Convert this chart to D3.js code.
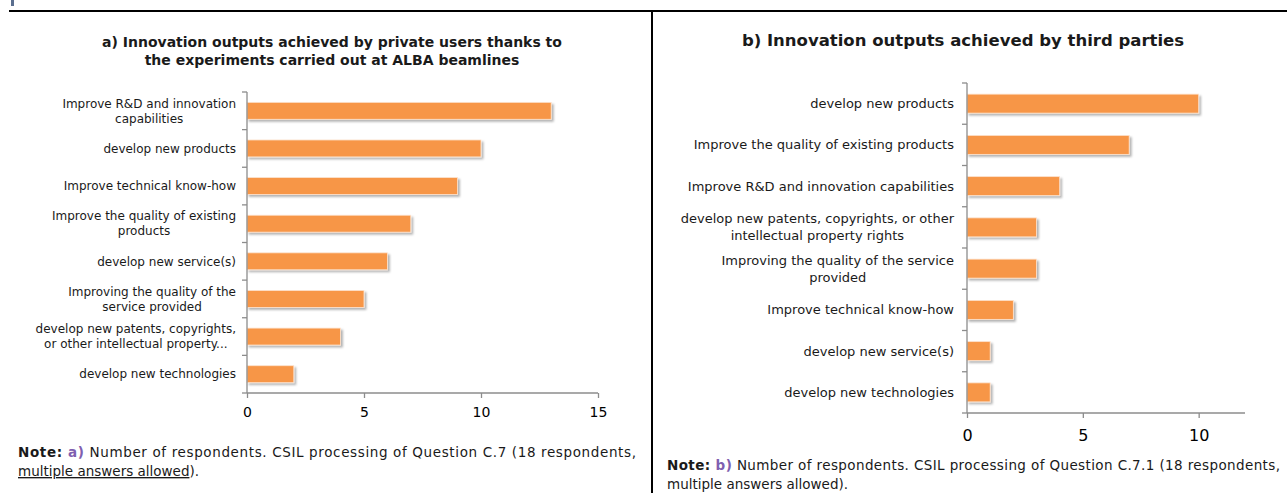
<!DOCTYPE html>
<html>
<head>
<meta charset="utf-8">
<script src="https://cdn.jsdelivr.net/npm/d3@7"></script>
<style>
  body { margin: 0; background: #fff; }
  svg { font-family: "DejaVu Sans", sans-serif; }
</style>
</head>
<body>
<svg width="1287" height="493"></svg>
<script>
// panel a data
var catsA = [
    ["Improve R&D and innovation", "capabilities"],
    ["develop new products"],
    ["Improve technical know-how"],
    ["Improve the quality of existing", "products"],
    ["develop new service(s)"],
    ["Improving the quality of the", "service provided"],
    ["develop new patents, copyrights,", "or other intellectual property..."],
    ["develop new technologies"]
];
var valsA = [13, 10, 9, 7, 6, 5, 4, 2];
var ticksA = [0, 5, 10, 15];

// panel b data
var catsB = [
    ["develop new products"],
    ["Improve the quality of existing products"],
    ["Improve R&D and innovation capabilities"],
    ["develop new patents, copyrights, or other", "intellectual property rights"],
    ["Improving the quality of the service", "provided"],
    ["Improve technical know-how"],
    ["develop new service(s)"],
    ["develop new technologies"]
];
var valsB = [10, 7, 4, 3, 3, 2, 1, 1];
var ticksB = [0, 5, 10];

var barColor = "#F79646";
var axisColor = "#8c8c8c";

const svg = d3.select("svg");

var defs = svg.append("defs");
defs.append("filter")
    .attr("id", "shadow")
    .attr("x", "-10%").attr("y", "-30%")
    .attr("width", "130%").attr("height", "180%")
    .append("feDropShadow")
    .attr("dx", 2).attr("dy", 2)
    .attr("stdDeviation", 1.2)
    .attr("flood-color", "#000")
    .attr("flood-opacity", 0.3);

// frame lines
svg.append("rect").attr("x", 11).attr("y", 0).attr("width", 3).attr("height", 6).attr("fill", "#5b6f8f");
svg.append("line").attr("x1", 9).attr("x2", 1287).attr("y1", 11).attr("y2", 11)
    .attr("stroke", "#000").attr("stroke-width", 2);
svg.append("line").attr("x1", 652).attr("x2", 652).attr("y1", 11).attr("y2", 493)
    .attr("stroke", "#000").attr("stroke-width", 2);

function drawPanel(cfg) {
    const g = svg.append("g");
    const x = d3.scaleLinear().domain(cfg.domain).range([cfg.x0, cfg.x1]);
    const y = d3.scaleBand().domain(d3.range(cfg.cats.length))
        .range([cfg.y0, cfg.y1]).paddingInner(cfg.pad).paddingOuter(cfg.pad / 2);

    // title
    cfg.title.forEach(function(t, i) {
        g.append("text")
            .attr("x", cfg.titleX).attr("y", cfg.titleY + i * 18)
            .attr("text-anchor", "middle")
            .attr("font-weight", "bold")
            .attr("font-size", cfg.titleFont)
            .attr("fill", "#1a1a1a")
            .text(t);
    });

    // bars
    g.selectAll("rect.bar")
        .data(cfg.vals)
        .join("rect")
        .attr("class", "bar")
        .attr("x", x(0))
        .attr("y", (d, i) => y(i))
        .attr("width", d => x(d) - x(0))
        .attr("height", y.bandwidth())
        .attr("fill", barColor)
        .attr("stroke", "#fde3cf")
        .attr("stroke-width", 0.8)
        .attr("filter", "url(#shadow)");

    // y axis line + ticks at band boundaries
    g.append("line")
        .attr("x1", x(0)).attr("x2", x(0))
        .attr("y1", cfg.y0).attr("y2", cfg.y1)
        .attr("stroke", axisColor).attr("stroke-width", 1.3);
    var bounds = d3.range(cfg.cats.length + 1).map(i => cfg.y0 + i * y.step());
    g.selectAll("line.ytick")
        .data(bounds)
        .join("line")
        .attr("class", "ytick")
        .attr("x1", x(0) - 5).attr("x2", x(0))
        .attr("y1", d => d).attr("y2", d => d)
        .attr("stroke", axisColor).attr("stroke-width", 1.3);

    // x axis
    const xAxis = d3.axisBottom(x).tickValues(cfg.ticks).tickSize(5).tickSizeOuter(0).tickPadding(cfg.tickPad);
    const ax = g.append("g")
        .attr("transform", `translate(0,${cfg.y1})`)
        .call(xAxis);
    ax.select(".domain").attr("stroke", axisColor).attr("stroke-width", 1.3)
        .attr("d", `M${x(0)},0H${cfg.x1}`);
    ax.selectAll(".tick line").attr("stroke", axisColor).attr("stroke-width", 1.3);
    ax.selectAll(".tick text")
        .attr("font-size", cfg.tickFont)
        .attr("font-family", "DejaVu Sans, sans-serif")
        .attr("fill", "#000");

    // category labels (wrapped lines centred in a right-aligned block)
    cfg.cats.forEach(function(lines, i) {
        const lg = g.append("g");
        const cy = y(i) + y.bandwidth() / 2;
        const n = lines.length;
        const texts = lines.map(function(l, j) {
            return lg.append("text")
                .attr("y", cy + (j - (n - 1) / 2) * cfg.lineH)
                .attr("dy", "0.35em")
                .attr("font-size", cfg.labelFont)
                .attr("fill", "#1a1a1a")
                .attr("text-anchor", "middle")
                .text(l);
        });
        const w = d3.max(texts, t => t.node().getComputedTextLength());
        const right = x(0) - cfg.labelGap;
        texts.forEach(t => t.attr("x", right - w / 2));
    });

    // note
    const n1 = g.append("text")
        .attr("x", cfg.noteX).attr("y", cfg.noteY)
        .attr("font-size", 13.5).attr("fill", "#1a1a1a");
    n1.append("tspan").attr("font-weight", "bold").text("Note: ");
    n1.append("tspan").attr("fill", "#7f5fb0").attr("font-weight", "bold").text(cfg.noteTag);
    n1.append("tspan").text(cfg.note1);
    n1.attr("textLength", cfg.noteW).attr("lengthAdjust", "spacing");
    const n2 = g.append("text")
        .attr("x", cfg.noteX).attr("y", cfg.noteY + 19)
        .attr("font-size", 13.5).attr("fill", "#1a1a1a");
    n2.append("tspan").attr("text-decoration", cfg.underline ? "underline" : "none").text("multiple answers allowed");
    n2.append("tspan").text(").");
}

drawPanel({
    cats: catsA, vals: valsA, ticks: ticksA, domain: [0, 15],
    x0: 247, x1: 598, y0: 92, y1: 393, pad: 0.55,
    title: ["a) Innovation outputs achieved by private users thanks to",
            "the experiments carried out at ALBA beamlines"],
    titleX: 332, titleY: 47, titleFont: 14,
    labelFont: 12, lineH: 15, labelGap: 11, tickFont: 14, tickPad: 9,
    noteX: 18, noteY: 457, noteW: 618, noteTag: "a)",
    note1: " Number of respondents. CSIL processing of Question C.7 (18 respondents,",
    underline: true
});

drawPanel({
    cats: catsB, vals: valsB, ticks: ticksB, domain: [0, 12],
    x0: 967, x1: 1245, y0: 83, y1: 413, pad: 0.54,
    title: ["b) Innovation outputs achieved by third parties"],
    titleX: 963, titleY: 46, titleFont: 16.5,
    labelFont: 13, lineH: 17, labelGap: 13, tickFont: 16, tickPad: 12,
    noteX: 667, noteY: 470, noteW: 613, noteTag: "b)",
    note1: " Number of respondents. CSIL processing of Question C.7.1 (18 respondents,",
    underline: false
});
</script>
</body>
</html>
